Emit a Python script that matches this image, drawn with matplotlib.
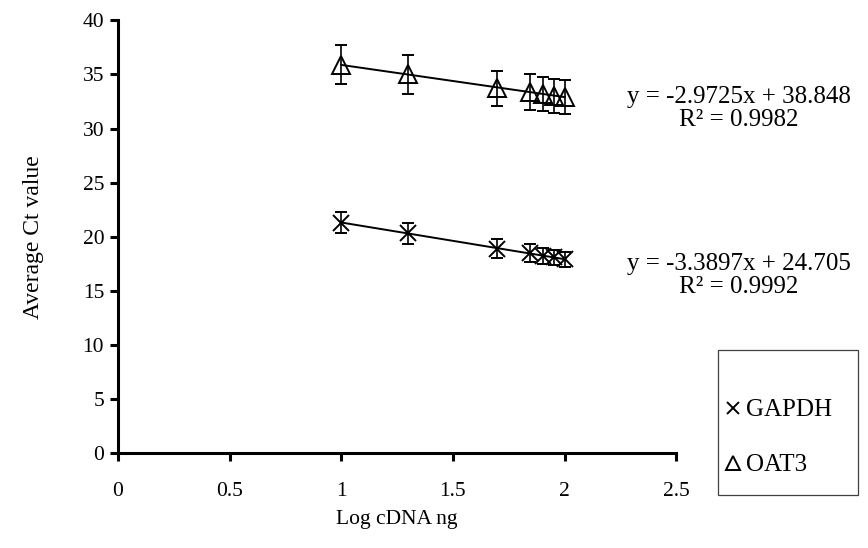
import numpy as np
import matplotlib
matplotlib.use("Agg")
import matplotlib.pyplot as plt
from matplotlib.patches import Rectangle

# log cDNA (ng) dilution points
log_cdna = [1.0, 1.301, 1.699, 1.845, 1.903, 1.954, 2.0]

gapdh_ct = [21.3, 20.3, 18.9, 18.5, 18.2, 18.1, 17.9]
gapdh_err = [1.0, 1.0, 0.9, 0.8, 0.75, 0.7, 0.7]
oat3_ct = [35.9, 35.0, 33.7, 33.4, 33.2, 33.0, 32.9]
oat3_err = [1.8, 1.8, 1.65, 1.65, 1.6, 1.6, 1.6]

# Excel linear trendlines (slope, intercept, R²)
gapdh_fit = (-3.3897, 24.705, 0.9992)
oat3_fit = (-2.9725, 38.848, 0.9982)

xticks = [0, 0.5, 1, 1.5, 2, 2.5]
xtick_labels = ["0", "0.5", "1", "1.5", "2", "2.5"]
yticks = [0, 5, 10, 15, 20, 25, 30, 35, 40]

plt.rcParams["font.family"] = ["Liberation Serif", "DejaVu Serif"]
FS = 15.5     # ticks / axis titles
FS_EQ = 18    # trendline equations
FS_LEG = 18

fig = plt.figure(figsize=(8.68, 5.48), dpi=100)
ax = fig.add_axes([0.136, 0.173, 0.643, 0.79])

ax.errorbar(log_cdna, gapdh_ct, yerr=gapdh_err, fmt="x", ms=11, mew=1.4,
            color="black", ecolor="black", elinewidth=1.2, capsize=4.5,
            capthick=1.2, label="GAPDH")
ax.errorbar(log_cdna, oat3_ct, yerr=oat3_err, fmt="^", ms=13, mew=1.4,
            mfc="none", color="black", ecolor="black", elinewidth=1.2,
            capsize=4.5, capthick=1.2, label="OAT3")

xs = np.array([min(log_cdna), max(log_cdna)])
for m, b, _ in (gapdh_fit, oat3_fit):
    ax.plot(xs, m * xs + b, color="black", lw=1.4)

ax.set_xlim(0, 2.5)
ax.set_ylim(0, 40)
ax.set_xticks(xticks)
ax.set_xticklabels(xtick_labels)
ax.set_yticks(yticks)
for s in ("top", "right"):
    ax.spines[s].set_visible(False)
for s in ("left", "bottom"):
    ax.spines[s].set_linewidth(2.2)
ax.tick_params(direction="out", length=6, width=2.2, labelsize=FS)
ax.tick_params(axis="x", pad=15)
ax.tick_params(axis="y", pad=4)
ax.set_xlabel("Log cDNA ng", fontsize=FS, labelpad=6)
ax.set_ylabel("Average Ct value", fontsize=17, labelpad=28)

for (m, b, r2), yc in ((oat3_fit, 0.802), (gapdh_fit, 0.497)):
    fig.text(0.851, yc, f"y = {m:.4f}x + {b:.3f}\nR² = {r2:.4f}",
             ha="center", va="center", fontsize=FS_EQ, linespacing=1.1)

# legend frame drawn separately (Excel leaves a blank band at the top)
fig.patches.append(Rectangle((0.827, 0.0967), 0.161, 0.2646,
                             transform=fig.transFigure, fill=True,
                             facecolor="white", edgecolor="#404040", lw=0.9,
                             zorder=-1))
handles, labels = ax.get_legend_handles_labels()
handles = [h[0] for h in handles]
leg = ax.legend(handles, labels, loc="center left",
                bbox_to_anchor=(0.836, 0.2016), bbox_transform=fig.transFigure,
                fontsize=FS_LEG, frameon=False, handlelength=0.6,
                handletextpad=0.2, labelspacing=1.3, borderpad=0,
                borderaxespad=0, markerscale=0.8)

fig.savefig("out.png", dpi=100)
